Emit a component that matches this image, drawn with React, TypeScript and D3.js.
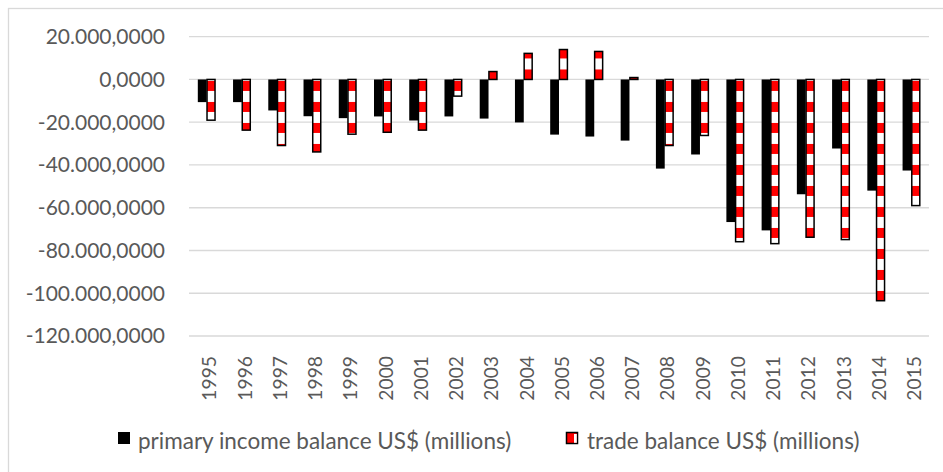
import React from "react";
import * as d3 from "d3";

const years = ["1995","1996","1997","1998","1999","2000","2001","2002","2003","2004","2005","2006","2007","2008","2009","2010","2011","2012","2013","2014","2015"];
const primaryIncome = [-10600,-10600,-14500,-17200,-18100,-17300,-19200,-17300,-18300,-20100,-25800,-26700,-28600,-41700,-35100,-66700,-70600,-53700,-32300,-52000,-42600];
const tradeBalance = [-19050,-23700,-30900,-33900,-25600,-24700,-23700,-7800,3700,12200,14000,13100,900,-30900,-26200,-75900,-76800,-73800,-74900,-103500,-59000];
const yTicks = [20000,0,-20000,-40000,-60000,-80000,-100000,-120000];
const seriesNames = ["primary income balance US$ (millions)","trade balance US$ (millions)"];

const W = 943, H = 472;
const plot = { left: 189, right: 929, top: 36.7, bottom: 336 };
const textColor = "#595959";
const font = "Lato, 'Open Sans', sans-serif";

function fmt(v: number): string {
  const s = d3.format(",")(Math.abs(v)).replace(/,/g, ".");
  return (v < 0 ? "-" : "") + s + ",0000";
}

export default function App() {
  const x0 = d3.scaleBand<string>().domain(years).range([plot.left, plot.right]).paddingInner(0.5).paddingOuter(0.25);
  const x1 = d3.scaleBand<number>().domain([0, 1]).range([0, x0.bandwidth()]);
  const y = d3.scaleLinear().domain([-120000, 20000]).range([plot.bottom, plot.top]);

  return (
    <svg width={W} height={H} style={{ position: "absolute", left: 0, top: 0, background: "#fff" }} fontFamily={font}>
      <defs>
        <pattern id="redDash" patternUnits="userSpaceOnUse" x={0} y={y(0) + 1.5} width={10} height={21}>
          <rect x={0} y={0} width={10} height={21} fill="#ffffff" />
          <rect x={0} y={0} width={10} height={10} fill="#ff0000" />
        </pattern>
        <pattern id="redDashUp" patternUnits="userSpaceOnUse" x={0} y={y(0) - 10} width={10} height={21}>
          <rect x={0} y={0} width={10} height={21} fill="#ffffff" />
          <rect x={0} y={0} width={10} height={10} fill="#ff0000" />
        </pattern>
      </defs>
      <rect x={0} y={0} width={W} height={H} fill="#fff" />
      <rect x={8.5} y={8.5} width={W + 20} height={H + 20} fill="none" stroke="#d9d9d9" strokeWidth={1.3} />
      {yTicks.map((t) => (
        <g key={t}>
          <line x1={plot.left} x2={plot.right} y1={y(t)} y2={y(t)} stroke="#d9d9d9" strokeWidth={1.3} />
          <text x={165} y={y(t)} dy="0.35em" textAnchor="end" fill={textColor} fontSize={21}>{fmt(t)}</text>
        </g>
      ))}
      {years.map((yr, i) => {
        const bx = x0(yr)!;
        const p = primaryIncome[i];
        const t = tradeBalance[i];
        return (
          <g key={yr}>
            <rect x={bx + x1(0)!} y={Math.min(y(p), y(0))} width={x1.bandwidth()} height={Math.abs(y(p) - y(0))} fill="#000" />
            <rect x={bx + x1(1)! + 0.4} y={Math.min(y(t), y(0))} width={x1.bandwidth() - 0.8} height={Math.abs(y(t) - y(0))} fill={t >= 0 ? "url(#redDashUp)" : "url(#redDash)"} stroke="#000" strokeWidth={1.5} />
          </g>
        );
      })}
      {years.map((yr) => {
        const cx = x0(yr)! + x0.bandwidth() / 2 + 3;
        return (
          <text key={yr} transform={`translate(${cx},356) rotate(-90)`} textAnchor="end" dy="0.35em" fill={textColor} fontSize={19.3}>{yr}</text>
        );
      })}
      <g>
        <rect x={118} y={432} width={12} height={12} fill="#000" />
        <text x={138} y={441} dy="0.35em" fill={textColor} fontSize={22.5}>{seriesNames[0]}</text>
        <rect x={566.5} y={432.5} width={11} height={11} fill="#ff0000" stroke="#000" strokeWidth={1.5} />
        <rect x={574} y={434} width={2.8} height={8.8} fill="#fff" />
        <text x={587} y={441} dy="0.35em" fill={textColor} fontSize={22.5}>{seriesNames[1]}</text>
      </g>
    </svg>
  );
}
